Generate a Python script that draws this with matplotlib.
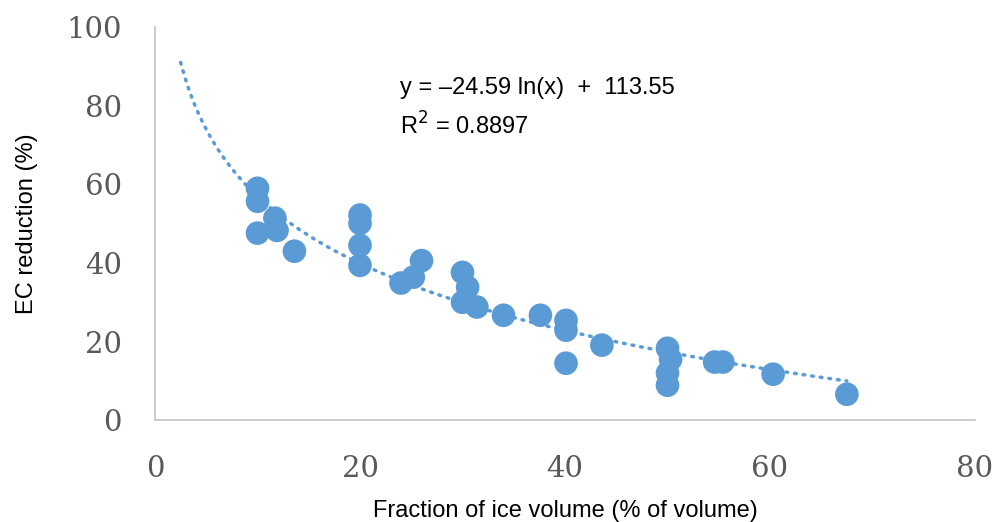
import numpy as np
import matplotlib.pyplot as plt

# Datos
fraccion_hielo = [10, 10, 10, 11.7, 11.9, 13.6,
                  20, 20, 20, 20,
                  24.0, 25.2, 26.0,
                  30, 30.5, 30, 31.4,
                  34.0, 37.6, 40.1, 40.1, 40.1, 43.6,
                  50, 50.3, 50, 50, 54.6, 55.4, 60.3, 67.5]
reduccion_ec = [59.0, 55.7, 47.6, 51.4, 48.3, 43.0,
                52.2, 50.1, 44.5, 39.4,
                34.9, 36.4, 40.6,
                37.6, 33.8, 30.0, 28.8,
                26.7, 26.7, 25.4, 22.9, 14.5, 19.1,
                18.3, 15.5, 12.0, 8.9, 14.8, 14.8, 11.7, 6.6]

# Linea de tendencia logaritmica (coeficientes de la ecuacion)
pendiente = -24.59
ordenada = 113.55
r2 = 0.8897
x_tendencia = np.linspace(2.5, 67.5, 300)
y_tendencia = pendiente * np.log(x_tendencia) + ordenada

azul = '#5B9BD5'
gris = '#595959'

fig = plt.figure(figsize=(10, 5.22), dpi=100)
ax = fig.add_axes([0.155, 0.195, 0.82, 0.753])

ax.plot(x_tendencia, y_tendencia, color=azul, linewidth=2.5,
        linestyle=(0, (0.5, 2.0)), dash_capstyle='round', zorder=2)
ax.scatter(fraccion_hielo, reduccion_ec, s=290, color=azul,
           edgecolors='none', zorder=3)

ax.set_xlim(0, 80)
ax.set_ylim(0, 100)
ax.set_xticks([0, 20, 40, 60, 80])
ax.set_yticks([0, 20, 40, 60, 80, 100])

for s in ['top', 'right']:
    ax.spines[s].set_visible(False)
for s in ['left', 'bottom']:
    ax.spines[s].set_color('#C8C8C8')
    ax.spines[s].set_linewidth(1.3)

ax.tick_params(axis='both', length=0, labelsize=21, labelcolor=gris)
ax.tick_params(axis='x', pad=25)
ax.tick_params(axis='y', pad=24)
for lab in ax.get_xticklabels() + ax.get_yticklabels():
    lab.set_family('DejaVu Serif')

ax.set_xlabel('Fraction of ice volume (% of volume)', fontsize=17,
              family='Liberation Sans', labelpad=12)
ax.set_ylabel('EC reduction (%)', fontsize=17, family='Liberation Sans',
              labelpad=20)

fig.text(0.4, 1 - 88 / 522, 'y = \u201324.59 ln(x)  +  113.55',
         fontsize=17, family='Liberation Sans', va='center')
fig.text(0.4, 1 - 126 / 522, 'R$^2$ = %.4f' % r2, fontsize=17,
         family='Liberation Sans', va='center')

fig.savefig('out.png', dpi=100)
